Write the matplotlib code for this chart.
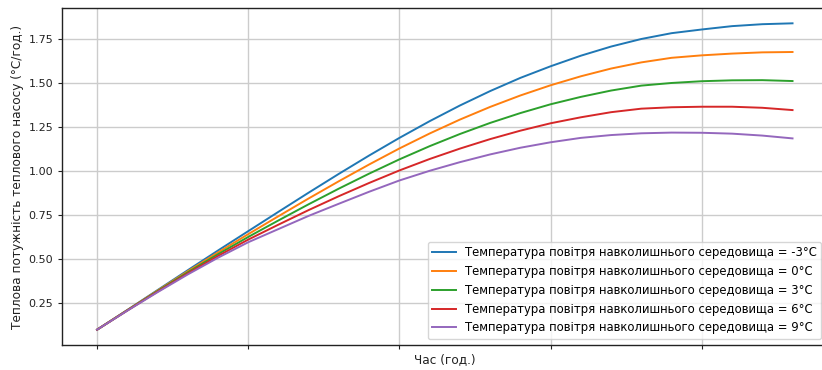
import matplotlib
matplotlib.use("Agg")
import matplotlib.pyplot as plt

# Hourly heat output of the heat pump for several ambient air temperatures
hours = list(range(24))

temps = [-3, 0, 3, 6, 9]

power_m3 = [0.100, 0.212, 0.325, 0.438, 0.550, 0.660, 0.770, 0.879, 0.986, 1.090,
            1.190, 1.285, 1.374, 1.456, 1.531, 1.597, 1.657, 1.709, 1.752, 1.785,
            1.806, 1.825, 1.836, 1.841]
power_0 = [0.100, 0.211, 0.322, 0.432, 0.539, 0.643, 0.745, 0.846, 0.944, 1.039,
           1.130, 1.215, 1.294, 1.366, 1.431, 1.489, 1.540, 1.584, 1.619, 1.645,
           1.659, 1.669, 1.676, 1.678]
power_3 = [0.100, 0.210, 0.319, 0.426, 0.529, 0.627, 0.721, 0.813, 0.902, 0.987,
           1.068, 1.143, 1.212, 1.275, 1.331, 1.381, 1.423, 1.459, 1.487, 1.502,
           1.512, 1.517, 1.518, 1.513]
power_6 = [0.100, 0.209, 0.316, 0.420, 0.519, 0.612, 0.697, 0.780, 0.859, 0.934,
           1.005, 1.070, 1.129, 1.183, 1.231, 1.273, 1.307, 1.336, 1.356, 1.364,
           1.367, 1.367, 1.361, 1.348]
power_9 = [0.100, 0.208, 0.313, 0.414, 0.509, 0.597, 0.672, 0.747, 0.816, 0.884,
           0.948, 1.003, 1.052, 1.096, 1.134, 1.165, 1.190, 1.206, 1.216, 1.220,
           1.219, 1.214, 1.203, 1.187]

series = [power_m3, power_0, power_3, power_6, power_9]

y_ticks = [0.25, 0.50, 0.75, 1.00, 1.25, 1.50, 1.75]
x_ticks = [0, 5, 10, 15, 20]

fs = 8.0
label_fs = 8.7

fig = plt.figure(figsize=(8.22, 3.70), dpi=100)
ax = fig.add_axes([62.3 / 822, 25 / 370, 765 / 822, 337 / 370])

for t, vals in zip(temps, series):
    ax.plot(hours, vals, lw=1.4,
            label=f"Температура повітря навколишнього середовища = {t}°C")

ax.set_xticks(x_ticks)
ax.set_xticklabels([""] * len(x_ticks))
ax.set_yticks(y_ticks)
ax.set_yticklabels([f"{v:.2f}" for v in y_ticks])
ax.tick_params(labelsize=fs, length=3.0, colors="#222222")

ax.grid(True, color="#cccccc", lw=1.0)
ax.set_axisbelow(True)

for sp in ax.spines.values():
    sp.set_color("#222222")
    sp.set_linewidth(1.0)

ax.set_xlabel("Час (год.)", fontsize=label_fs, color="#222222", labelpad=-1)
ax.set_ylabel("Теплова потужність теплового насосу (°C/год.)", fontsize=label_fs,
              color="#222222", labelpad=3)

ax.legend(loc="lower right", fontsize=8.4, framealpha=0.8)

fig.savefig("out.png", dpi=100)
